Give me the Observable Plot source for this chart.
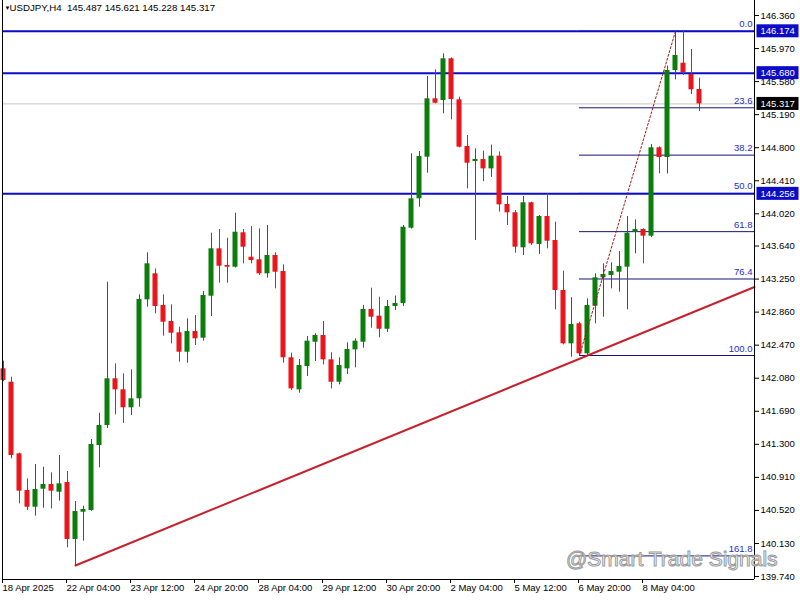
<!DOCTYPE html>
<html><head><meta charset="utf-8">
<script src="https://cdn.jsdelivr.net/npm/d3@7"></script>
<script src="https://cdn.jsdelivr.net/npm/@observablehq/plot@0.6"></script>
<style>
body{margin:0;background:#fff;}
#wrap{position:relative;width:800px;height:600px;overflow:hidden;}
#wm{position:absolute;left:566px;top:547px;font:21px "Liberation Sans",Arial,sans-serif;color:#fff;-webkit-text-stroke:1px #9a9a9a;white-space:nowrap;}
</style></head><body><div id="wrap"><div id="wm">@Smart Trade Signals</div></div>
<script>
// ---- data (USDJPY H4) ----
const symbol = "USDJPY,H4";
const open  = [142.191,142.033,141.188,140.755,140.558,140.770,140.826,140.735,140.849,140.177,140.499,140.519,141.286,141.522,142.073,141.943,141.731,141.837,143.005,143.312,142.938,142.749,142.616,142.387,142.631,142.552,143.048,143.607,143.410,143.390,143.796,143.508,143.477,143.312,143.528,143.339,142.321,141.943,142.218,142.505,142.584,142.297,142.033,142.191,142.415,142.505,142.891,142.812,142.658,142.926,142.962,143.850,144.197,144.688,145.377,145.357,145.849,145.365,144.814,144.637,144.660,144.550,144.700,144.130,144.032,143.619,144.150,143.658,143.988,143.705,143.115,142.486,142.722,142.368,142.930,143.265,143.292,143.331,143.390,143.803,143.835,143.756,144.799,144.684,145.711,145.797,145.664,145.487];
const high  = [142.281,142.092,141.195,140.893,141.062,141.030,140.964,141.168,140.979,140.625,140.570,141.357,141.667,143.213,142.250,142.132,142.179,143.064,143.560,143.371,143.064,142.946,142.682,142.781,142.820,143.103,143.791,143.835,143.732,144.027,143.835,143.870,143.843,143.882,143.560,143.418,142.375,142.301,142.572,142.604,142.749,142.380,142.321,142.498,142.545,142.938,143.142,143.036,142.997,143.050,143.882,144.728,144.755,145.640,145.719,145.908,145.860,145.396,144.944,144.787,144.760,144.830,144.750,144.224,144.059,144.224,144.157,144.000,144.256,143.921,143.343,143.029,142.740,143.017,143.312,143.430,143.442,143.575,143.988,143.949,143.843,144.838,144.810,145.762,146.174,146.170,145.959,145.621];
const low   = [142.040,141.129,140.598,140.519,140.452,140.546,140.539,140.629,140.079,139.870,140.157,140.510,141.023,141.487,141.648,141.547,141.640,141.738,142.918,142.840,142.576,142.486,142.269,142.257,142.466,142.517,142.808,143.201,143.201,143.380,143.430,143.430,143.292,143.260,143.135,142.257,141.935,141.903,142.100,142.277,142.238,141.955,142.002,142.124,142.203,142.434,142.670,142.557,142.619,142.880,142.926,143.840,144.098,144.499,145.318,145.200,145.129,144.799,144.315,143.705,144.400,144.450,144.039,143.882,143.555,143.528,143.646,143.540,143.607,142.887,142.474,142.328,142.348,142.350,142.722,142.800,143.135,143.095,142.887,143.548,143.430,143.740,144.492,144.490,145.601,145.652,145.428,145.228];
const close = [142.053,141.168,140.747,140.558,140.767,140.826,140.747,140.834,140.177,140.507,140.531,141.298,141.522,142.073,141.943,141.731,141.837,143.009,143.430,142.926,142.741,142.611,142.387,142.631,142.545,143.056,143.607,143.402,143.390,143.803,143.626,143.469,143.312,143.528,143.331,142.321,141.955,142.230,142.517,142.584,142.297,142.033,142.230,142.419,142.517,142.891,142.800,142.658,142.926,142.962,143.862,144.197,144.696,145.377,145.325,145.849,145.369,144.806,144.617,144.661,144.550,144.700,144.126,144.032,143.626,144.150,143.666,143.988,143.697,143.115,142.486,142.714,142.368,142.938,143.265,143.304,143.339,143.398,143.791,143.835,143.756,144.799,144.684,145.711,145.888,145.687,145.483,145.317];

const xTickIdx = [0,8,16,24,32,40,48,56,64,72,80];
const xTickLabels = ["18 Apr 2025","22 Apr 04:00","23 Apr 12:00","24 Apr 20:00","28 Apr 04:00","29 Apr 12:00","30 Apr 20:00","2 May 04:00","5 May 12:00","6 May 20:00","8 May 04:00"];
const yTicks = [146.360,145.970,145.580,145.190,144.800,144.410,144.020,143.640,143.250,142.860,142.470,142.080,141.690,141.300,140.910,140.520,140.130,139.740];

const hLevels = [146.174,145.680,144.256];
const lastPrice = 145.317;

const fibLevels = [0,23.6,38.2,50,61.8,76.4,100,161.8];
const fibHigh = 146.174, fibLow = 142.348;
const fibHighIdx = 84, fibLowIdx = 72;

const trendIdx = [9,73];
const trendPrice = [139.870,142.348];

// ---- build ----
const xDomain = [-0.125, 93.875];
const yDomain = [139.705, 146.537];
const GREEN = "#0b7d0b", RED = "#e8151b", BLUE = "#0b0bc8";

const candles = open.map((o,i)=>({i,o,h:high[i],l:low[i],c:close[i],up:close[i]>=o}));
const fib = fibLevels.map(l=>({l, p: fibHigh-(fibHigh-fibLow)*l/100}));
const slope = (trendPrice[1]-trendPrice[0])/(trendIdx[1]-trendIdx[0]);
const trend = [{i:trendIdx[0],p:trendPrice[0]},{i:xDomain[1],p:trendPrice[0]+slope*(xDomain[1]-trendIdx[0])}];
const fibDiag = [{i:fibLowIdx,p:fibLow},{i:fibHighIdx,p:fibHigh}];
const tags = [...hLevels.map(p=>({p,bg:BLUE})),{p:lastPrice,bg:"#000"}];
const F = "'Liberation Sans', Arial, sans-serif";
const title = `${symbol}  ${[open,high,low,close].map(a=>a[a.length-1].toFixed(3)).join(" ")}`;

const chart = Plot.plot({
  width: 800, height: 600,
  marginLeft: 2, marginRight: 46, marginTop: 0, marginBottom: 21,
  x: {domain: xDomain, axis: null, label: null},
  y: {domain: yDomain, axis: null, label: null},
  style: {fontFamily: F, fontSize: "9.5px", color: "#000", background: "#fff"},
  marks: [
    Plot.ruleY([lastPrice], {stroke: "#c4c4c4", strokeWidth: 1}),
    Plot.ruleY(fib, {y: "p", x1: fibLowIdx, x2: xDomain[1], stroke: "#14147a", strokeWidth: 1}),
    Plot.text(fib, {x: xDomain[1], y: "p", text: d=>d.l.toFixed(1), textAnchor: "end", dx: -2, dy: -7, fill: "#2a2ac8", fontSize: 9.5}),
    Plot.ruleY(hLevels, {stroke: BLUE, strokeWidth: 2}),
    Plot.line(trend, {x: "i", y: "p", stroke: "#c8202a", strokeWidth: 2}),
    Plot.ruleX(candles, {x: "i", y1: "l", y2: "h", stroke: d=>d.up?GREEN:RED, strokeWidth: 1}),
    Plot.rect(candles, {x1: d=>d.i-0.3125, x2: d=>d.i+0.3125, y1: "o", y2: "c", fill: d=>d.up?GREEN:RED}),
    Plot.line(fibDiag, {x: "i", y: "p", stroke: "#a01414", strokeWidth: 1, strokeDasharray: "2,2"}),
    Plot.ruleX([xDomain[0], xDomain[1]], {stroke: "#000"}),
    Plot.ruleY([yDomain[0]], {stroke: "#000"}),
    Plot.axisX(xTickIdx, {anchor: "bottom", label: null, tickSize: 4, tickPadding: 1, textAnchor: "start", dx: -1, tickFormat: d=>xTickLabels[xTickIdx.indexOf(d)], fontSize: 9.5}),
    Plot.axisY(yTicks, {anchor: "right", label: null, tickSize: 4, tickPadding: 2, tickFormat: d=>d.toFixed(3), fontSize: 9.5}),
    Plot.text(tags, {x: xDomain[1], y: "p", text: d=>d.p.toFixed(3), textAnchor: "start", dx: 6, fill: "#fff", fontSize: 9.5}),
    Plot.text([title], {frameAnchor: "top-left", dx: 7, dy: 4, textAnchor: "start", lineAnchor: "top", fontSize: 9.7}),
    Plot.text(["▼"], {frameAnchor: "top-left", dx: 2, dy: 5, textAnchor: "start", lineAnchor: "top", fontSize: 6})
  ]
});
document.getElementById("wrap").prepend(chart);
// background boxes behind the price tags on the right axis
const tagText = tags.map(d=>d.p.toFixed(3));
chart.querySelectorAll("text").forEach(t => {
  const k = tagText.indexOf(t.textContent.trim());
  if (k < 0) return;
  let b;
  try { b = t.getBBox(); } catch (e) { return; }
  const r = document.createElementNS("http://www.w3.org/2000/svg", "rect");
  r.setAttribute("x", b.x - 4); r.setAttribute("y", b.y - 1);
  r.setAttribute("width", 42); r.setAttribute("height", b.height + 2);
  r.setAttribute("fill", tags[k].bg);
  const tr = t.getAttribute("transform"); if (tr) r.setAttribute("transform", tr);
  t.parentNode.insertBefore(r, t);
});
</script></body></html>
